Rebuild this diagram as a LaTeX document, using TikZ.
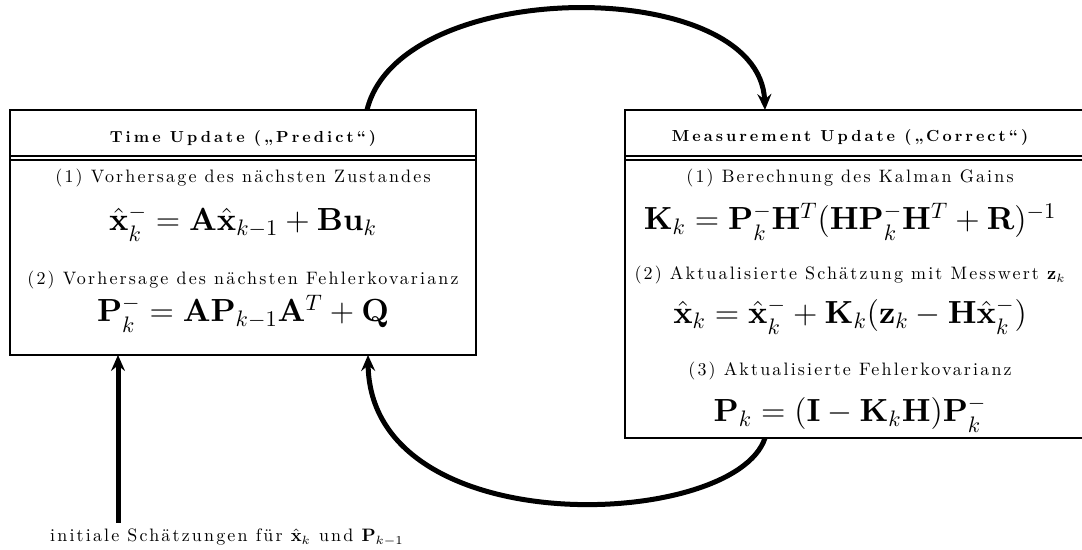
\RequirePackage{fix-cm}
\documentclass[tikz,border=0pt]{standalone}
\usepackage{fontspec}
\usepackage{amsmath}
\setmainfont{lmroman10}[Extension=.otf, UprightFont=*-regular, BoldFont=*-bold, ItalicFont=*-italic, BoldItalicFont=*-bolditalic]
\usetikzlibrary{arrows.meta,calc}
\begin{document}
\begin{tikzpicture}[x=0.5pt,y=-0.5pt,
  box/.style={draw,line width=1pt,inner sep=0pt,outer sep=0pt,rectangle},
  sep/.style={line width=0.75pt},
  txt/.style={anchor=base,inner sep=0pt,font=\fontsize{9}{11}\selectfont\addfontfeature{LetterSpace=12}},
  ttl/.style={anchor=base,inner sep=0pt,font=\fontsize{8}{10}\selectfont\bfseries\addfontfeature{LetterSpace=19}},
  eq/.style={anchor=base,inner sep=0pt,font=\fontsize{16}{19}\selectfont},
  flow/.style={line width=2.5pt,-{Stealth[length=8pt,width=7pt,inset=2.8pt]}}]
\useasboundingbox (0,0) rectangle (1082,550);
\clip (0,0) rectangle (1082,550);
% boxes
\node[box,minimum width=233pt,minimum height=122.5pt] (tu) at (243,232.5) {};
\node[box,minimum width=229.5pt,minimum height=164pt] (mu) at (854.5,274) {};
\draw[sep] ([yshift=-23pt]tu.north west) -- ([yshift=-23pt]tu.north east);
\draw[sep] ([yshift=-25pt]tu.north west) -- ([yshift=-25pt]tu.north east);
\draw[sep] ([yshift=-23pt]mu.north west) -- ([yshift=-23pt]mu.north east);
\draw[sep] ([yshift=-25pt]mu.north west) -- ([yshift=-25pt]mu.north east);
% left content
\node[ttl] (t1) at (243,143) {Time Update („Predict“)};
\node[txt] (a1) at (243,183) {(1) Vorhersage des nächsten Zustandes};
\node[eq] (e1) at (243,231) {$\hat{\mathbf{x}}_k^- = \mathbf{A}\hat{\mathbf{x}}_{k-1} + \mathbf{B}\mathbf{u}_k$};
\node[txt] (a2) at (243,285) {(2) Vorhersage des nächsten Fehlerkovarianz};
\node[eq] (e2) at (243,322) {$\mathbf{P}_k^- = \mathbf{A}\mathbf{P}_{k-1}\mathbf{A}^T + \mathbf{Q}$};
% right content
\node[ttl] (t2) at (850,142) {Measurement Update („Correct“)};
\node[txt] (b1) at (850,183) {(1) Berechnung des Kalman Gains};
\node[eq] (f1) at (850,230) {$\mathbf{K}_k = \mathbf{P}_k^-\mathbf{H}^T(\mathbf{H}\mathbf{P}_k^-\mathbf{H}^T+\mathbf{R})^{-1}$};
\node[txt] (b2) at (850,280) {(2) Aktualisierte Schätzung mit Messwert $\mathbf{z}_k$};
\node[eq] (f2) at (850,324) {$\hat{\mathbf{x}}_k = \hat{\mathbf{x}}_k^- + \mathbf{K}_k(\mathbf{z}_k - \mathbf{H}\hat{\mathbf{x}}_k^-)$};
\node[txt] (b3) at (850,376) {(3) Aktualisierte Fehlerkovarianz};
\node[eq] (f3) at (850,422) {$\mathbf{P}_k = (\mathbf{I} - \mathbf{K}_k\mathbf{H})\mathbf{P}_k^-$};
% initial label
\node[txt] (init) at (227,542) {initiale Schätzungen für $\hat{\mathbf{x}}_k$ und $\mathbf{P}_{k-1}$};
\coordinate (s) at (118,523);
% connectors
\draw[flow] ($(tu.north east)+(-109,0)$) .. controls +(33,-135) and +(-5,-135) .. ($(mu.north west)+(140,0)$);
\draw[flow] ($(mu.south west)+(140,0)$) .. controls +(-30,92) and +(2,190) .. ($(tu.south east)+(-108,0)$);
\draw[flow] (s) -- ($(tu.south west)+(108,0)$);
\end{tikzpicture}
\end{document}
